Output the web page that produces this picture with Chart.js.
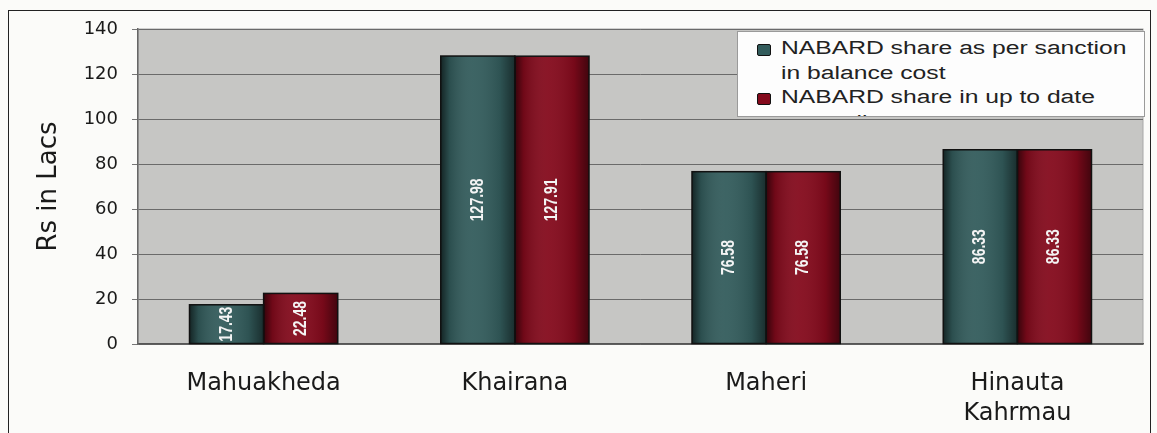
<!DOCTYPE html>
<html>
<head>
<meta charset="utf-8">
<script src="https://cdn.jsdelivr.net/npm/chart.js@4/dist/chart.umd.min.js"></script>
<style>
  body { margin: 0; background: #fbfbf9; }
  #wrap { position: relative; width: 1157px; height: 433px; overflow: hidden; }
  #frame { position: absolute; left: 8px; top: 10px; width: 1143px; height: 440px; border: 1.5px solid #222; box-sizing: border-box; }
  #legend {
    position: absolute; left: 737px; top: 31px; width: 408px; height: 86px;
    background: #fdfdfd; border: 1px solid #9a9a9a; overflow: hidden;
    font-family: "Liberation Sans", Arial, sans-serif; font-size: 18px; color: #222;
    box-sizing: border-box;
  }
  .item { position: relative; padding-left: 43px; }
  .item:first-child { margin-top: 4px; }
  .txt { display: block; width: 262px; line-height: 24.5px; transform: scaleX(1.37); transform-origin: left top; }
  .sw { position: absolute; left: 19px; top: 8px; width: 12px; height: 10px; border: 1px solid #111; border-radius: 2px; }
</style>
</head>
<body>
<div id="wrap">
  <div id="frame"></div>
  <canvas id="myChart" width="1157" height="433"></canvas>
  <div id="legend"></div>
</div>
<script>
const categories = [["Mahuakheda"], ["Khairana"], ["Maheri"], ["Hinauta", "Kahrmau"]];
const sanctionShare = [17.43, 127.98, 76.58, 86.33];
const upToDateShare = [22.48, 127.91, 76.58, 86.33];
const seriesNames = ["NABARD share as per sanction in balance cost", "NABARD share in up to date expenditure"];
const yTicks = [0, 20, 40, 60, 80, 100, 120, 140];

const tealColor = "#335c5c";
const redColor = "#840a1c";

// legend as html, text stretched like the scan
const legend = document.querySelector("#legend");
[tealColor, redColor].forEach((c, i) => {
    const row = document.createElement("div");
    row.className = "item";
    row.innerHTML = '<span class="sw" style="background:' + c + '"></span><span class="txt">' + seriesNames[i] + '</span>';
    legend.appendChild(row);
});

const plotBg = {
    id: "plotBg",
    beforeDraw(chart) {
        const a = chart.chartArea;
        const c = chart.ctx;
        c.save();
        c.fillStyle = "#c6c6c4";
        c.fillRect(a.left, a.top, a.right - a.left, a.bottom - a.top);
        c.strokeStyle = "#a8a8a8";
        c.lineWidth = 1;
        c.strokeRect(a.left, a.top, a.right - a.left, a.bottom - a.top);
        c.restore();
    }
};

const barDeco = {
    id: "barDeco",
    afterDatasetsDraw(chart) {
        const c = chart.ctx;
        chart.data.datasets.forEach((ds, di) => {
            const meta = chart.getDatasetMeta(di);
            meta.data.forEach((bar, i) => {
                const left = bar.x - bar.width / 2;
                const g = c.createLinearGradient(left, 0, left + bar.width, 0);
                g.addColorStop(0, "rgba(0,0,0,0.6)");
                g.addColorStop(0.12, "rgba(0,0,0,0.15)");
                g.addColorStop(0.45, "rgba(255,255,255,0.05)");
                g.addColorStop(0.8, "rgba(0,0,0,0.1)");
                g.addColorStop(1, "rgba(0,0,0,0.5)");
                c.save();
                c.fillStyle = g;
                c.fillRect(left, bar.y, bar.width, bar.base - bar.y);
                c.strokeStyle = "#111";
                c.lineWidth = 1.5;
                c.strokeRect(left, bar.y, bar.width, bar.base - bar.y);
                // value label, rotated
                c.translate(bar.x, (bar.y + bar.base) / 2);
                c.rotate(-Math.PI / 2);
                c.scale(1, 1.3);
                c.fillStyle = "#f4f4f4";
                c.font = "bold 14px 'Liberation Sans', Arial";
                c.textAlign = "center";
                c.textBaseline = "middle";
                c.fillText(ds.data[i].toFixed(2), 0, 0);
                c.restore();
            });
        });
    }
};

const ctx = document.querySelector("#myChart");

new Chart(ctx, {
    type: "bar",
    data: {
        labels: categories,
        datasets: [
            {
                label: seriesNames[0],
                data: sanctionShare,
                backgroundColor: tealColor,
                borderWidth: 0,
            },
            {
                label: seriesNames[1],
                data: upToDateShare,
                backgroundColor: redColor,
                borderWidth: 0,
            },
        ],
    },
    options: {
        responsive: false,
        animation: false,
        layout: { padding: { left: 8, right: 14, top: 29, bottom: 0 } },
        categoryPercentage: 0.59,
        barPercentage: 1.0,
        plugins: {
            legend: { display: false },
            tooltip: { enabled: false }
        },
        scales: {
            x: {
                grid: { display: false, drawTicks: false },
                border: { color: "#555", width: 1.5 },
                ticks: {
                    color: "#1a1a1a",
                    font: { family: "'DejaVu Sans', Arial", size: 24, lineHeight: 1.25 },
                    padding: 25,
                    maxRotation: 0
                },
                afterFit(s) { s.height = 89; }
            },
            y: {
                min: 0,
                max: 140,
                afterBuildTicks(s) { s.ticks = yTicks.map(v => ({ value: v })); },
                grid: { color: "#6a6a6a", lineWidth: 1, tickLength: 6, tickColor: "#777" },
                border: { color: "#666", width: 1.5 },
                ticks: {
                    color: "#1a1a1a",
                    font: { family: "'DejaVu Sans', Arial", size: 18 },
                    padding: 14
                },
                title: {
                    display: true,
                    text: "Rs in Lacs",
                    color: "#1a1a1a",
                    font: { family: "'DejaVu Sans', Arial", size: 26 },
                    padding: { top: 26, bottom: 0 }
                },
                afterFit(s) { s.width = 130; }
            }
        }
    },
    plugins: [plotBg, barDeco]
});
</script>
</body>
</html>
